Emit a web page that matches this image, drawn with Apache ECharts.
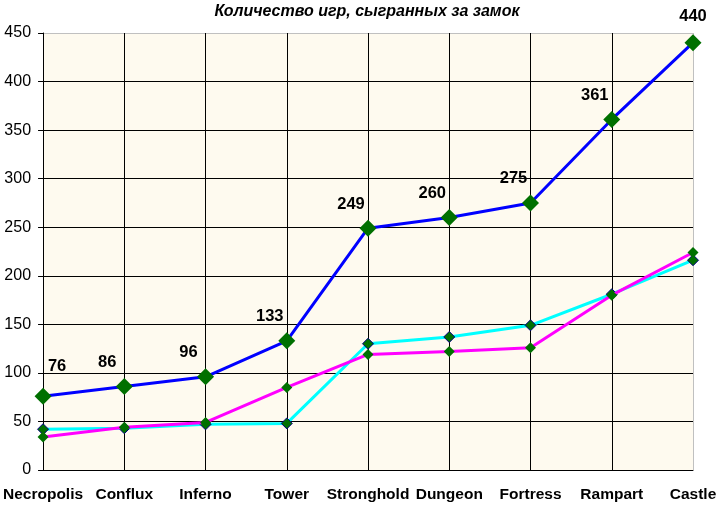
<!DOCTYPE html>
<html><head><meta charset="utf-8">
<script src="https://cdn.jsdelivr.net/npm/echarts@6/dist/echarts.min.js"></script>
<style>html,body{margin:0;padding:0;background:#fff}#c{width:721px;height:506px}</style>
</head><body><div id="c"></div>
<script>
const categories = ['Necropolis','Conflux','Inferno','Tower','Stronghold','Dungeon','Fortress','Rampart','Castle'];
const totalGames = [76, 86, 96, 133, 249, 260, 275, 361, 440];
const cyanSeries = [42, 43, 47, 48, 130, 137, 149, 181, 216];
const magentaSeries = [34, 44, 49, 85, 119, 122, 126, 180, 224];
const yTicks = [0, 50, 100, 150, 200, 250, 300, 350, 400, 450];

const font = 'Liberation Sans, Arial, sans-serif';
const hColors = yTicks.map((v, i) => i === yTicks.length - 1 ? '#c0c0c0' : '#000');
const vColors = categories.map((v, i) => i === categories.length - 1 ? '#c0c0c0' : '#000');

const blueData = totalGames.map((v, i) => {
  const d = { value: v };
  if (i === 0) d.label = { offset: [14, -8] };
  else if (i === totalGames.length - 1) d.label = { offset: [0, -4] };
  return d;
});

const chart = echarts.init(document.getElementById('c'));
chart.setOption({
  animation: false,
  backgroundColor: '#fff',
  title: {
    text: 'Количество игр, сыгранных за замок',
    left: 362, textAlign: 'center', top: -1,
    textStyle: { fontFamily: font, fontSize: 16, fontStyle: 'italic', fontWeight: 'bold', color: '#000' }
  },
  grid: { left: 43, right: 28, top: 33, bottom: 36, show: true, backgroundColor: '#fefaef', borderWidth: 0 },
  xAxis: {
    type: 'category', data: categories, boundaryGap: false,
    axisLine: { lineStyle: { color: '#000', width: 1 } },
    axisTick: { show: false },
    splitLine: { show: true, lineStyle: { color: vColors, width: 1 } },
    axisLabel: { fontFamily: font, fontSize: 15.5, fontWeight: 'bold', color: '#000', margin: 17, interval: 0 }
  },
  yAxis: {
    type: 'value', min: 0, max: 450, interval: 50,
    axisLine: { show: true, lineStyle: { color: '#000', width: 1 } },
    axisTick: { show: true, length: 5, lineStyle: { color: '#000' } },
    splitLine: { show: true, lineStyle: { color: hColors, width: 1 } },
    axisLabel: { fontFamily: font, fontSize: 16, color: '#000', margin: 12 }
  },
  series: [
    {
      type: 'line', data: cyanSeries, z: 3,
      lineStyle: { color: '#00ffff', width: 3 },
      symbol: 'diamond', symbolSize: 11,
      itemStyle: { color: '#007000', borderColor: '#000080', borderWidth: 1 }
    },
    {
      type: 'line', data: magentaSeries, z: 4,
      lineStyle: { color: '#ff00ff', width: 3 },
      symbol: 'diamond', symbolSize: 11,
      itemStyle: { color: '#007000', borderWidth: 0 }
    },
    {
      type: 'line', data: blueData, z: 5,
      lineStyle: { color: '#0000ff', width: 3 },
      symbol: 'diamond', symbolSize: 17,
      itemStyle: { color: '#007000', borderWidth: 0 },
      label: { show: true, position: 'top', offset: [-17, -2], fontFamily: font, fontSize: 16.5, fontWeight: 'bold', color: '#000' }
    }
  ]
});
</script></body></html>
